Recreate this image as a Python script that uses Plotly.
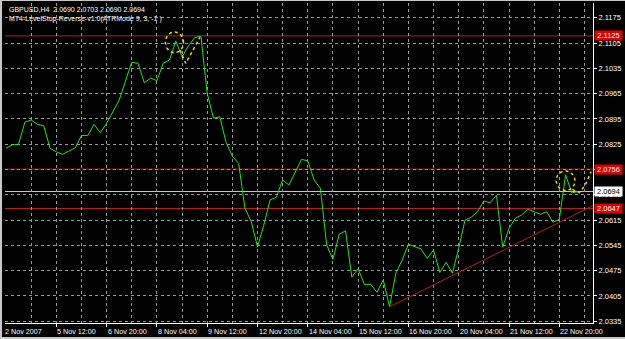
import numpy as np
import plotly.graph_objects as go

# ---------------- data ----------------
close = [
    2.0814, 2.0823, 2.0825, 2.0886, 2.0892, 2.0880, 2.0876, 2.0814, 2.0804, 2.0797,
    2.0806, 2.0815, 2.0849, 2.0849, 2.0880, 2.0857, 2.0883, 2.0915, 2.0947, 2.1000,
    2.1052, 2.1049, 2.0995, 2.1008, 2.1001, 2.1049, 2.1058, 2.1111, 2.1067, 2.1097,
    2.1120, 2.1124, 2.0966, 2.0897, 2.0901, 2.0830, 2.0792, 2.0772, 2.0648, 2.0611,
    2.0541, 2.0601, 2.0671, 2.0678, 2.0726, 2.0712, 2.0749, 2.0783, 2.0779, 2.0726,
    2.0703, 2.0546, 2.0506, 2.0576, 2.0585, 2.0457, 2.0480, 2.0437, 2.0437, 2.0415,
    2.0449, 2.0375, 2.0468, 2.0504, 2.0548, 2.0541, 2.0535, 2.0509, 2.0532, 2.0470,
    2.0498, 2.0468, 2.0537, 2.0615, 2.0623, 2.0638, 2.0668, 2.0663, 2.0684, 2.0540,
    2.0592, 2.0620, 2.0629, 2.0645, 2.0638, 2.0631, 2.0638, 2.0609, 2.0617, 2.0740,
    2.0690, 2.0694,
]
bars = list(range(len(close)))

x_label_bars = [0, 8, 16, 24, 32, 40, 48, 56, 64, 72, 80, 88]
x_label_text = ["2 Nov 2007", "5 Nov 12:00", "6 Nov 20:00", "8 Nov 04:00", "9 Nov 12:00",
                "12 Nov 20:00", "14 Nov 04:00", "15 Nov 12:00", "16 Nov 20:00",
                "20 Nov 04:00", "21 Nov 12:00", "22 Nov 20:00"]
x_grid_bars = [4, 12, 20, 28, 36, 44, 52, 60, 68, 76, 84, 92]

y_ticks = [2.0335, 2.0405, 2.0475, 2.0545, 2.0615, 2.0685, 2.0755,
           2.0825, 2.0895, 2.0965, 2.1035, 2.1105, 2.1175]
y_tick_text = ["2.0335", "2.0405", "2.0475", "2.0545", "2.0615", "2.0685", "",
               "2.0825", "2.0895", "2.0965", "2.1035", "2.1105", "2.1175"]

level_values = [2.1125, 2.0756, 2.0647]
level_text = ["2.1125", "2.0756", "2.0647"]
bid_value = 2.0694
bid_text = "2.0694"

trend_bars = [61, 93.36]
trend_values = [2.0375, 2.0655]

circle_bars = [26.8, 89.0]
circle_values = [2.1107, 2.0724]
circle_rx_bars = [1.45, 1.5]
circle_ry = [0.0029, 0.0027]

mark1_bars = [27.67, 28.58, 30.85]
mark1_values = [2.1086, 2.1049, 2.1121]
mark2_bars = [90.07, 91.18, 92.1, 93.06]
mark2_values = [2.0700, 2.0691, 2.0711, 2.0749]

header_lines = ["GBPUSD,H4  2.0690 2.0703 2.0690 2.0694",
                "MT4-LevelStop-Reverse-v1.0(ATRMode 9, 3, -1 )"]

# ---------------- style ----------------
X_RANGE = [-0.16, 93.36]
Y_RANGE = [2.0330, 2.1216]
GRID = "#9a9a9a"
GREEN = "#26e026"
RED = "#b81c1c"
YELLOW = "#e8e000"
FRAME = "#c8c8c8"
FONT = "Liberation Sans"

fig = go.Figure()

fig.add_trace(go.Scatter(x=bars, y=close, mode="lines",
                         line=dict(color=GREEN, width=1), hoverinfo="skip"))
fig.add_trace(go.Scatter(x=trend_bars, y=trend_values, mode="lines",
                         line=dict(color=RED, width=1), hoverinfo="skip"))
t = np.linspace(0, 2 * np.pi, 60)
for cx, cy, rx, ry in zip(circle_bars, circle_values, circle_rx_bars, circle_ry):
    fig.add_trace(go.Scatter(x=cx + rx * np.cos(t), y=cy + ry * np.sin(t), mode="lines",
                             line=dict(color=YELLOW, width=1.5, dash="dot"), hoverinfo="skip"))
for xs, ys in [(mark1_bars, mark1_values), (mark2_bars, mark2_values)]:
    fig.add_trace(go.Scatter(x=xs, y=ys, mode="lines",
                             line=dict(color=YELLOW, width=1.5, dash="dot"), hoverinfo="skip"))

shapes = []
for v in level_values:
    shapes.append(dict(type="line", xref="paper", x0=0, x1=1, yref="y", y0=v, y1=v,
                       line=dict(color=RED, width=1), layer="between"))
shapes.append(dict(type="line", xref="paper", x0=0, x1=1, yref="y", y0=bid_value, y1=bid_value,
                   line=dict(color="#c4cad8", width=1), layer="between"))
# window frame (plot area spans 588 x 320 px starting at (5, 3))
pw, ph = 588.0, 320.0
frame_rects = [(0, 2, 0, 339), (0, 625, 0, 1), (0, 625, 337, 339)]
for x0, x1, y0, y1 in frame_rects:
    shapes.append(dict(type="rect", xref="paper", yref="paper",
                       x0=(x0 - 5) / pw, x1=(x1 - 5) / pw,
                       y0=(323 - y1) / ph, y1=(323 - y0) / ph,
                       fillcolor=FRAME, line=dict(width=0), layer="above"))

annotations = []
for b, txt in zip(x_label_bars, x_label_text):
    annotations.append(dict(x=b, xref="x", y=0, yref="paper", text=txt, showarrow=False,
                            xanchor="left", yanchor="top", xshift=-1 if b else -3, yshift=-2,
                            font=dict(family=FONT, size=7.2, color="white")))
for v, txt in zip(level_values, level_text):
    annotations.append(dict(x=1, xref="paper", y=v, yref="y", text=txt, showarrow=False,
                            xanchor="left", yanchor="middle", xshift=1, bgcolor="#e00000",
                            borderpad=0, width=27, align="center",
                            font=dict(family=FONT, size=7.5, color="white")))
annotations.append(dict(x=1, xref="paper", y=bid_value, yref="y", text=bid_text, showarrow=False,
                        xanchor="left", yanchor="middle", xshift=1, bgcolor="white",
                        borderpad=0, width=27, align="center",
                        font=dict(family=FONT, size=7.5, color="black")))
for i, line in enumerate(header_lines):
    annotations.append(dict(x=0, xref="paper", y=1, yref="paper", text=line, showarrow=False,
                            xanchor="left", yanchor="middle", xshift=2, yshift=-6.5 - 9.5 * i,
                            font=dict(family=FONT, size=7, color="white")))

fig.update_layout(
    width=625, height=339, autosize=False,
    margin=dict(l=5, r=32, t=3, b=16, pad=0),
    paper_bgcolor="black", plot_bgcolor="black",
    showlegend=False, shapes=shapes, annotations=annotations,
    xaxis=dict(range=X_RANGE, showline=True, linecolor="white", linewidth=1,
               tickmode="array", tickvals=x_label_bars[1:], ticks="outside", ticklen=3,
               tickcolor="white", showticklabels=False, zeroline=False,
               showgrid=True, gridcolor=GRID, griddash="3px,3px", gridwidth=1,
               minor=dict(tickmode="array", tickvals=x_grid_bars, showgrid=True,
                          gridcolor=GRID, griddash="3px,3px", gridwidth=1, ticks="")),
    yaxis=dict(range=Y_RANGE, side="right", showline=True, linecolor="white", linewidth=1,
               tickmode="array", tickvals=y_ticks, ticktext=y_tick_text, ticks="outside",
               ticklen=3, tickcolor="white", zeroline=False,
               tickfont=dict(family=FONT, size=7.5, color="white"),
               showgrid=True, gridcolor=GRID, griddash="3px,3px", gridwidth=1),
)

fig.write_html("out.html")
